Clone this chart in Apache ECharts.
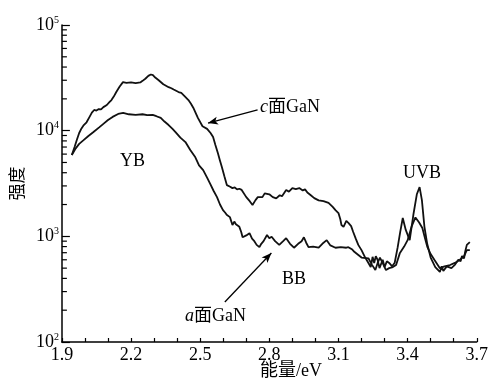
<!DOCTYPE html>
<html>
<head>
<meta charset="utf-8">
<script src="https://cdn.jsdelivr.net/npm/echarts@6/dist/echarts.min.js"></script>
<style>
  html, body { margin: 0; padding: 0; background: #fff; }
  #chart { width: 491px; height: 381px; }
</style>
</head>
<body>
<div id="chart"></div>
<script>
// energy (eV), intensity
const cFaceGaN = [
  [1.943, 5880], [1.955, 7000], [1.965, 8200], [1.975, 9500], [1.985, 10500],
  [1.995, 11300], [2.007, 12000], [2.020, 13500], [2.030, 14800], [2.040, 15700],
  [2.050, 15500], [2.060, 16000], [2.070, 15900], [2.080, 16700], [2.095, 17500],
  [2.106, 18600], [2.115, 19500], [2.125, 21000], [2.136, 23200], [2.150, 26000],
  [2.165, 28800], [2.180, 28300], [2.200, 28600], [2.220, 28200], [2.240, 28600],
  [2.250, 29600], [2.262, 31000], [2.275, 33000], [2.286, 34000], [2.295, 33500],
  [2.305, 31800], [2.320, 30000], [2.340, 27500], [2.363, 25800], [2.375, 25200],
  [2.385, 24500], [2.406, 23200], [2.418, 22800], [2.430, 21500], [2.449, 19500],
  [2.460, 18000], [2.470, 16500], [2.490, 13200], [2.510, 11000], [2.530, 10400],
  [2.545, 9500], [2.556, 8700], [2.566, 7300], [2.577, 6100], [2.586, 5200],
  [2.594, 4530], [2.605, 3700], [2.616, 3050], [2.630, 2950], [2.640, 2860],
  [2.650, 2900], [2.660, 2780], [2.670, 2820], [2.680, 2750], [2.700, 2350],
  [2.715, 2150], [2.727, 1980], [2.740, 2200], [2.750, 2350], [2.757, 2450],
  [2.770, 2350], [2.780, 2550], [2.787, 2630], [2.800, 2500], [2.815, 2350],
  [2.830, 2290], [2.845, 2450], [2.855, 2400], [2.873, 2750], [2.885, 2650],
  [2.900, 2860], [2.915, 2800], [2.930, 2860], [2.945, 2720], [2.955, 2780],
  [2.965, 2600], [2.980, 2450], [2.995, 2300], [3.014, 2190], [3.035, 2150],
  [3.057, 2070], [3.075, 1900], [3.087, 1770], [3.100, 1660], [3.108, 1450],
  [3.113, 1280], [3.122, 1230], [3.134, 1400], [3.143, 1340], [3.155, 1250],
  [3.164, 1100], [3.175, 950], [3.186, 830], [3.200, 740], [3.216, 630],
  [3.230, 560], [3.240, 512], [3.248, 640], [3.255, 560], [3.262, 650],
  [3.270, 597], [3.278, 500], [3.285, 480], [3.292, 600], [3.300, 512],
  [3.310, 580], [3.320, 560], [3.333, 520], [3.344, 562], [3.357, 790],
  [3.368, 1100], [3.379, 1490], [3.392, 1150], [3.409, 920], [3.425, 1600],
  [3.440, 2500], [3.452, 2920], [3.462, 2200], [3.473, 1230], [3.485, 850],
  [3.500, 630], [3.520, 510], [3.540, 460], [3.548, 520], [3.555, 470],
  [3.570, 520], [3.590, 500], [3.606, 540], [3.620, 600], [3.630, 580],
  [3.636, 650], [3.645, 620], [3.650, 720], [3.657, 830], [3.670, 880]
];

const aFaceGaN = [
  [1.943, 5880], [1.960, 6800], [1.975, 7500], [1.994, 8130], [2.015, 8900],
  [2.037, 9700], [2.063, 10800], [2.080, 11600], [2.100, 12600], [2.120, 13500],
  [2.144, 14400], [2.166, 14700], [2.190, 14300], [2.220, 14100], [2.250, 14300],
  [2.270, 14000], [2.294, 14100], [2.310, 13700], [2.329, 13200], [2.345, 12200],
  [2.363, 11300], [2.380, 10400], [2.393, 9700], [2.414, 8600], [2.436, 7800],
  [2.457, 6550], [2.479, 5600], [2.495, 4700], [2.513, 4240], [2.530, 3600],
  [2.543, 3160], [2.558, 2700], [2.573, 2350], [2.586, 2000], [2.599, 1770],
  [2.608, 1680], [2.615, 1600], [2.629, 1520], [2.640, 1280], [2.648, 1380],
  [2.655, 1300], [2.670, 1230], [2.678, 1100], [2.684, 980], [2.700, 1020],
  [2.714, 1070], [2.725, 950], [2.735, 900], [2.745, 830], [2.757, 790],
  [2.765, 850], [2.775, 900], [2.790, 1030], [2.800, 960], [2.810, 990],
  [2.825, 900], [2.843, 830], [2.860, 900], [2.873, 960], [2.890, 850],
  [2.907, 780], [2.925, 850], [2.940, 900], [2.950, 980], [2.960, 870],
  [2.970, 790], [2.990, 800], [3.014, 780], [3.030, 850], [3.049, 920],
  [3.065, 820], [3.087, 780], [3.110, 790], [3.134, 780], [3.143, 790],
  [3.160, 750], [3.170, 710], [3.185, 670], [3.200, 630], [3.230, 620],
  [3.245, 540], [3.260, 480], [3.270, 560], [3.280, 630], [3.295, 540],
  [3.306, 480], [3.320, 500], [3.336, 512], [3.350, 535], [3.366, 690],
  [3.385, 800], [3.400, 920], [3.418, 1250], [3.434, 1510], [3.450, 1350],
  [3.464, 1200], [3.476, 950], [3.486, 790], [3.500, 680], [3.516, 600],
  [3.540, 500], [3.560, 520], [3.584, 535], [3.605, 560], [3.627, 600],
  [3.645, 650], [3.657, 740], [3.670, 740]
];

const minorTickValues = [
  200, 300, 400, 500, 600, 700, 800, 900,
  2000, 3000, 4000, 5000, 6000, 7000, 8000, 9000,
  20000, 30000, 40000, 50000, 60000, 70000, 80000, 90000
];

// arrow start / end in data coords
const cArrow = [[2.749, 15700], [2.534, 11800]];
const aArrow = [[2.607, 239], [2.809, 695]];

const serif = '"Liberation Serif", "Noto Sans CJK SC", serif';
const cjk = '"Noto Sans CJK SC", sans-serif';

const chart = echarts.init(document.getElementById('chart'));

const lineStyle = { color: '#111', width: 1.8 };

chart.setOption({
  animation: false,
  backgroundColor: '#fff',
  grid: { left: 60, right: 11, top: 25, bottom: 39 },
  xAxis: {
    type: 'value',
    min: 1.9,
    max: 3.7,
    interval: 0.1,
    axisLine: { lineStyle: { color: '#000', width: 1.5 } },
    axisTick: { inside: true, length: 4, lineStyle: { color: '#000', width: 1.2 } },
    splitLine: { show: false },
    axisLabel: {
      margin: 4,
      color: '#000',
      fontSize: 18,
      fontFamily: serif,
      formatter: v => {
        const k = Math.round((v - 1.9) * 10);
        return k % 3 === 0 ? v.toFixed(1) : '';
      }
    }
  },
  yAxis: {
    type: 'log',
    logBase: 10,
    min: 100,
    max: 100000,
    name: '强度',
    nameLocation: 'middle',
    nameRotate: 90,
    nameGap: 36,
    nameTextStyle: { fontSize: 17, fontFamily: cjk, color: '#000' },
    axisLine: { lineStyle: { color: '#000', width: 1.5 } },
    axisTick: { inside: true, length: 8, lineStyle: { color: '#000', width: 1.2 } },
    splitLine: { show: false },
    axisLabel: {
      margin: 3,
      color: '#000',
      formatter: v => '{b|10}{s|' + Math.round(Math.log10(v)) + '}',
      rich: {
        b: { fontSize: 18, fontFamily: serif, color: '#000', lineHeight: 20 },
        s: { fontSize: 10, fontFamily: serif, color: '#000', verticalAlign: 'top', lineHeight: 20, padding: [0, 0, 10, 0] }
      }
    }
  },
  graphic: [
    {
      type: 'text', left: 260, top: 98,
      style: {
        text: '{i|c}面GaN', fill: '#000',
        rich: {
          i: { fontSize: 18, fontFamily: serif, fontStyle: 'italic' }
        },
        fontSize: 18, fontFamily: serif
      }
    },
    {
      type: 'text', left: 185, top: 307,
      style: {
        text: '{i|a}面GaN', fill: '#000',
        rich: {
          i: { fontSize: 18, fontFamily: serif, fontStyle: 'italic' }
        },
        fontSize: 18, fontFamily: serif
      }
    },
    { type: 'text', left: 120, top: 152, style: { text: 'YB', fontSize: 18, fontFamily: serif, fill: '#000' } },
    { type: 'text', left: 282, top: 270, style: { text: 'BB', fontSize: 18, fontFamily: serif, fill: '#000' } },
    { type: 'text', left: 403, top: 164, style: { text: 'UVB', fontSize: 18, fontFamily: serif, fill: '#000' } },
    { type: 'text', left: 260, top: 362, style: { text: '能量/eV', fontSize: 18, fontFamily: '"Liberation Serif", "Noto Sans CJK SC"', fill: '#000' } }
  ],
  series: [
    {
      name: 'c面GaN',
      type: 'line',
      data: cFaceGaN,
      showSymbol: false,
      lineStyle: lineStyle,
      markLine: {
        silent: true,
        symbol: ['none', 'arrow'],
        symbolSize: [6, 10],
        label: { show: false },
        lineStyle: { color: '#000', width: 1.3, type: 'solid' },
        data: [
          [{ coord: cArrow[0] }, { coord: cArrow[1] }],
          [{ coord: aArrow[0] }, { coord: aArrow[1] }]
        ]
      }
    },
    {
      name: 'a面GaN',
      type: 'line',
      data: aFaceGaN,
      showSymbol: false,
      lineStyle: lineStyle
    },
    {
      // log minor ticks on the y axis, placed through the axis scale
      type: 'custom',
      silent: true,
      clip: false,
      data: minorTickValues.map(v => [1.9, v]),
      renderItem: (params, api) => {
        const p = api.coord([api.value(0), api.value(1)]);
        return {
          type: 'line',
          shape: { x1: p[0], y1: p[1], x2: p[0] + 5, y2: p[1] },
          style: { stroke: '#000', lineWidth: 1.2 }
        };
      }
    }
  ]
});
</script>
</body>
</html>
